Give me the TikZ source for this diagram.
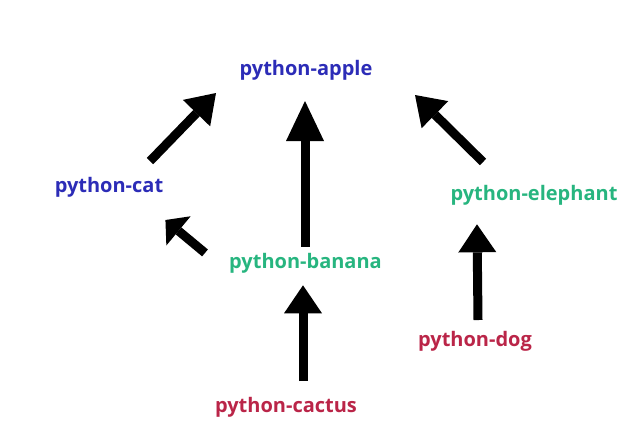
\documentclass[tikz,border=0pt]{standalone}
\usepackage{fontspec}
\setmainfont{Open Sans}
\usetikzlibrary{arrows.meta}
\definecolor{pkgBlue}{HTML}{2C2CB7}
\definecolor{pkgGreen}{HTML}{27B57F}
\definecolor{pkgRed}{HTML}{BA2548}
\tikzset{font=\fontsize{20}{24}\selectfont\bfseries}
\tikzstyle{pkg} = [inner sep=0pt, anchor=base]
\tikzstyle{blue pkg} = [pkg, text=pkgBlue]
\tikzstyle{green pkg} = [pkg, text=pkgGreen]
\tikzstyle{red pkg} = [pkg, text=pkgRed]
\tikzset{arrow/.style={line width=9pt,%
  -{Triangle[length=#1, width=38pt, line width=0pt]}}}

\begin{document}
\begin{tikzpicture}[x=1pt, y=-1pt]
    \useasboundingbox (0,0) rectangle (640,440);

    \node (apple) [blue pkg] at (306,75) {python-apple};
    \node (cat) [blue pkg] at (109,192) {python-cat};
    \node (elephant) [green pkg] at (534,200) {python-elephant};
    \node (banana) [green pkg] at (305.5,268.7) {python-banana};
    \node (dog) [red pkg] at (475,346) {python-dog};
    \node (cactus) [red pkg] at (286,412) {python-cactus};

    \draw [arrow=28pt] ([shift={(41,-15.5)}]cat.north) -- ([shift={(-90,13)}]apple.south);
    \draw [arrow=40pt] ([shift={(-0.5,-6.6)}]banana.north) -- ([shift={(-1,21)}]apple.south);
    \draw [arrow=28pt] ([shift={(-51,-22.6)}]elephant.north) -- ([shift={(109,15)}]apple.south);
    \draw [arrow=17pt] ([shift={(-24,-10.6)}]banana.west) -- ([shift={(2,23)}]cat.south east);
    \draw [arrow=28pt] ([shift={(17,-15.6)}]cactus.north) -- ([shift={(-2.5,11.6)}]banana.south);
    \draw [arrow=28pt] ([shift={(3,-10.6)}]dog.north) -- ([shift={(-57,19.3)}]elephant.south);
  \end{tikzpicture}
\end{document}
